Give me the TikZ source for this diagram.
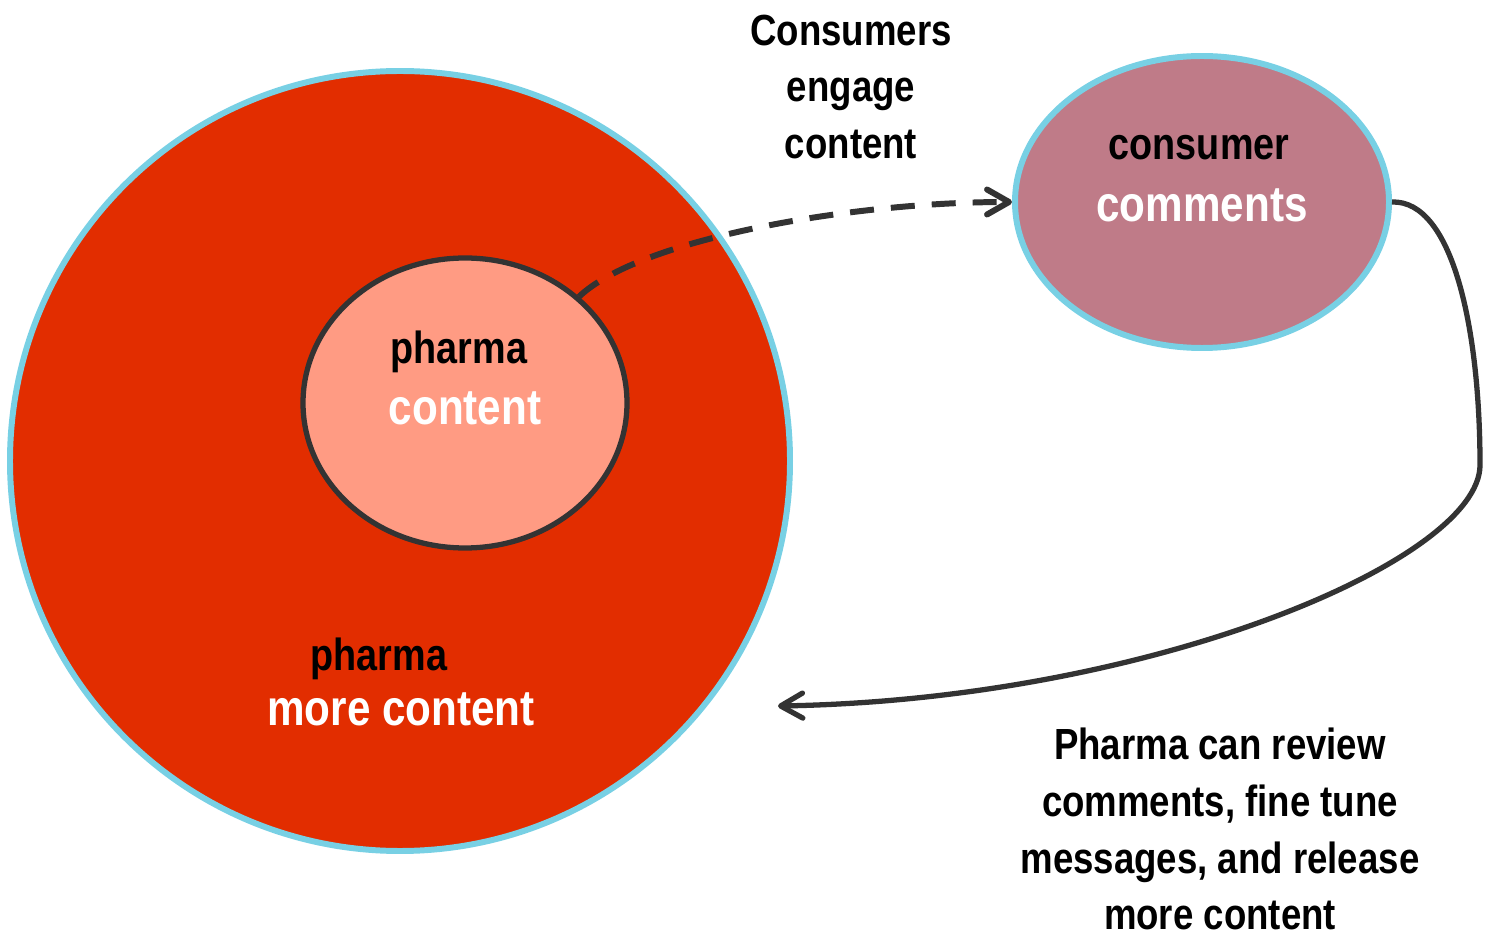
\documentclass[tikz,border=0pt]{standalone}
\usepackage{fontspec}
\setmainfont{Liberation Sans}[FakeStretch=0.84]
\usepackage{xcolor}
\usepackage{tikz}
\usetikzlibrary{arrows.meta, positioning, shapes.geometric}
\definecolor{outerred}{RGB}{226,45,0}
\definecolor{ringblue}{RGB}{120,208,228}
\definecolor{innersalmon}{RGB}{255,155,131}
\definecolor{commentmauve}{RGB}{191,123,136}
\definecolor{linegray}{RGB}{51,51,51}
\tikzset{
  outercircle/.style={
    circle, draw=ringblue, line width=1.7pt, fill=outerred,
    minimum size=7.8cm, inner sep=0pt
  },
  innerblob/.style={
    ellipse, draw=linegray, line width=1.5pt, fill=innersalmon,
    minimum width=3.24cm, minimum height=2.9cm, inner sep=0pt
  },
  commentblob/.style={
    ellipse, draw=ringblue, line width=1.7pt, fill=commentmauve,
    minimum width=3.74cm, minimum height=2.92cm, inner sep=0pt
  },
  darklabel/.style={font=\fontsize{12.8}{14}\selectfont\bfseries, text=black, anchor=base, inner sep=0pt},
  lightlabel/.style={font=\fontsize{14.3}{16}\selectfont\bfseries, text=white, anchor=base, inner sep=0pt},
  notetext/.style={font=\fontsize{12.4}{16.2}\selectfont\bfseries, align=center, inner sep=0pt},
  engageflow/.style={-{Straight Barb[length=2.2mm, width=2.5mm, round]}, line width=1.7pt,
    draw=linegray, dash pattern=on 0.24cm off 0.17cm},
  reviewflow/.style={-{Straight Barb[length=2.2mm, width=2.5mm, round]}, line width=1.5pt, draw=linegray}
}

\begin{document}
\begin{tikzpicture}
\useasboundingbox (0,0) rectangle (14.87,9.35);

% Content circles
\node[outercircle] (outer) at (4.00,4.74) {};
\node[innerblob] (inner) at (4.65,5.32) {};
\node[commentblob] (comments) at (12.02,7.33) {};

% Labels inside the circles
\node[darklabel] (innerA) at (4.59,5.71) {pharma};
\node[lightlabel] (innerB) at (4.65,5.10) {content};
\node[darklabel] (commA) at (11.99,7.75) {consumer};
\node[lightlabel] (commB) at (12.02,7.13) {comments};
\node[darklabel] (outerA) at (3.79,2.65) {pharma};
\node[lightlabel] (outerB) at (4.01,2.10) {more content};

% Notes
\node[notetext] (engage) at (8.51,8.48) {Consumers\\engage\\content};
\node[notetext] (review) at (12.20,1.06) {Pharma can review\\comments, fine tune\\messages, and release\\more content};

% Feedback loop
\coordinate (bend) at (14.80,4.70);
\coordinate (back) at (7.78,2.29);
\draw[engageflow] (inner.43) .. controls +(0.6,0.57) and +(-1.63,0) .. (comments.west);
\draw[reviewflow] (comments.east) .. controls +(0.61,0.02) and +(0,1.35) .. (bend)
  .. controls +(0,-0.95) and +(3.72,0.06) .. (back);

\end{tikzpicture}
\end{document}
